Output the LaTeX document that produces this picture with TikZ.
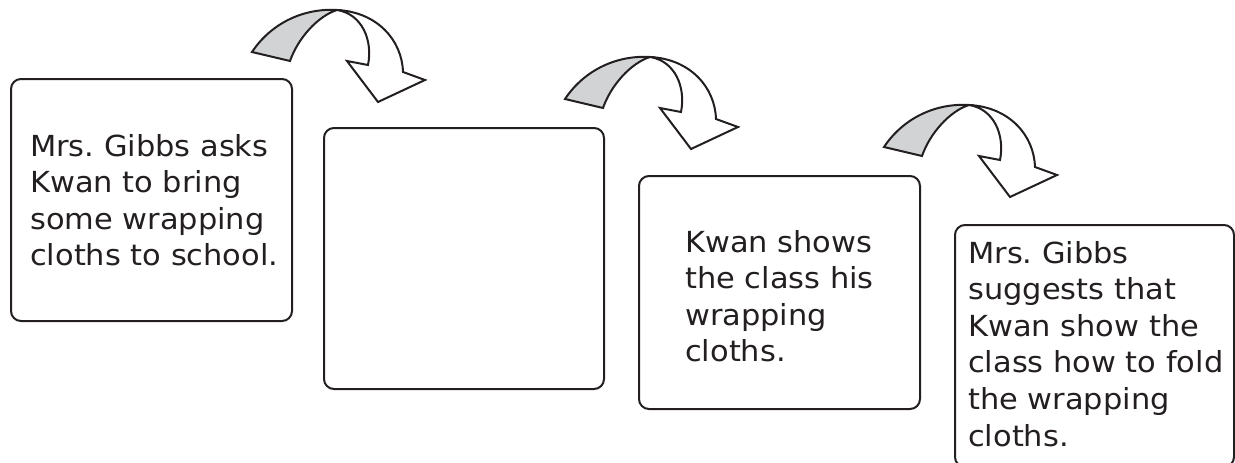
\documentclass[tikz,border=0pt]{standalone}
\usepackage{fontspec}
\setmainfont[FakeStretch=1.05]{DejaVu Sans}
\definecolor{ink}{HTML}{231F20}
\definecolor{ribbon}{HTML}{D1D3D4}
\tikzset{
  stepbox/.style={draw=ink, line width=2pt, rounded corners=10pt, anchor=north west, inner sep=0pt},
  steptext/.style={anchor=base west, inner sep=0pt, align=left, text width=280pt, text=ink,
    font=\fontsize{29}{36.6}\selectfont\frenchspacing},
  arrowline/.style={draw=ink, line width=2pt, line join=miter}
}
\newcommand\turnarrow[1]{%
 \begin{scope}[shift={#1}]
  \filldraw[arrowline, fill=ribbon] (252,52) .. controls (272,22) and (305,8) .. (337,10)
     .. controls (318,16) and (298,38) .. (290,61) -- cycle;
  \filldraw[arrowline, fill=white] (337,10) .. controls (377,12) and (402,40) .. (403,72)
     -- (425,80) -- (378,102) -- (347,61) -- (368,65)
     .. controls (373,40) and (362,14) .. (337,10) -- cycle;
 \end{scope}}
\begin{document}
\begin{tikzpicture}[x=1pt, y=-1pt]
  \useasboundingbox (0,0) rectangle (1235,463);
  % boxes
  \node[stepbox, minimum width=281pt, minimum height=242pt] (b1) at (10,78) {};
  \node[stepbox, minimum width=280pt, minimum height=261pt] (b2) at (323,127) {};
  \node[stepbox, minimum width=281pt, minimum height=233pt] (b3) at (638,175) {};
  \node[stepbox, minimum width=279pt, minimum height=242pt] (b4) at (954,224) {};
  % texts
  \node[steptext] (t1) at (30,156) {Mrs. Gibbs asks\\Kwan to bring\\some wrapping\\cloths to school.};
  \node[steptext] (t3) at (685,252) {Kwan shows\\the class his\\wrapping\\cloths.};
  \node[steptext] (t4) at (968,263) {Mrs. Gibbs\\suggests that\\Kwan show the\\class how to fold\\the wrapping\\cloths.};
  % arrows
  \turnarrow{(0,0)}
  \turnarrow{(313,47)}
  \turnarrow{(632,95)}
\end{tikzpicture}
\end{document}
